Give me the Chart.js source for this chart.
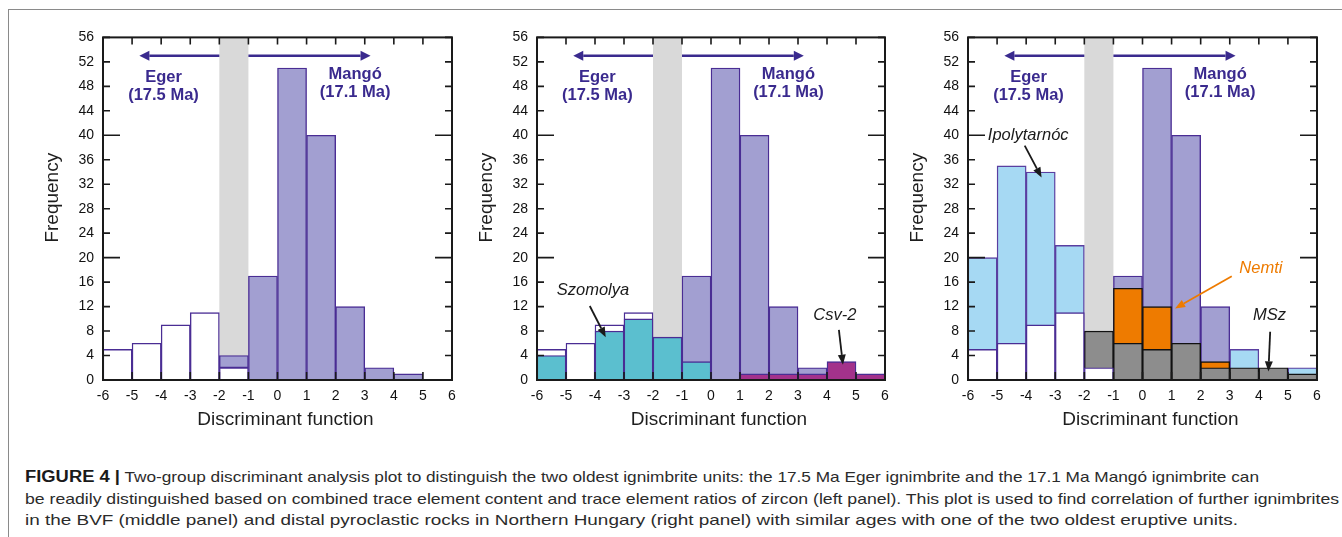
<!DOCTYPE html>
<html>
<head>
<meta charset="utf-8">
<script src="https://cdn.jsdelivr.net/npm/chart.js@4/dist/chart.umd.min.js"></script>
<style>
html,body{margin:0;padding:0;background:#fff;}
#page{position:relative;width:1342px;height:537px;overflow:hidden;background:#fff;}
#frame{position:absolute;left:8px;top:9px;width:1400px;height:600px;border-top:1.5px solid #8a8a8a;border-left:1.5px solid #8a8a8a;}
canvas{position:absolute;}
.cap{position:absolute;left:25px;white-space:nowrap;font-family:"Liberation Sans",Arial,sans-serif;font-size:15px;line-height:20px;color:#2b2b2b;transform-origin:0 50%;}
.cap b{font-size:16px;color:#1a1a1a;}
</style>
</head>
<body>
<div id="page">
  <div id="frame"></div>
  <canvas id="c1" width="444" height="415" style="left:28px;top:20px"></canvas>
  <canvas id="c2" width="443" height="415" style="left:462px;top:20px"></canvas>
  <canvas id="c3" width="444" height="415" style="left:893px;top:20px"></canvas>
  <div class="cap" id="l1" style="top:467px"><b>FIGURE 4 |</b> Two-group discriminant analysis plot to distinguish the two oldest ignimbrite units: the 17.5 Ma Eger ignimbrite and the 17.1 Ma Mangó ignimbrite can</div>
  <div class="cap" id="l2" style="top:489px">be readily distinguished based on combined trace element content and trace element ratios of zircon (left panel). This plot is used to find correlation of further ignimbrites</div>
  <div class="cap" id="l3" style="top:510px">in the BVF (middle panel) and distal pyroclastic rocks in Northern Hungary (right panel) with similar ages with one of the two oldest eruptive units.</div>
</div>
<script>
// ---------------- DATA ----------------
const binStarts   = [-6, -5, -4, -3, -2, -1, 0, 1, 2, 3, 4, 5];   // histogram bins of width 1
const overlapZone = [-2, -1];                                     // grey overlap band
const eger        = [5, 6, 9, 11, 2, 0, 0, 0, 0, 0, 0, 0];        // Eger (17.5 Ma)
const mango       = [0, 0, 0, 0, 2, 17, 51, 40, 12, 2, 1, 0];     // Mangó (17.1 Ma), stacked on Eger
const szomolya    = [4, 0, 8, 10, 7, 3, 0, 0, 0, 0, 0, 0];
const csv2        = [0, 0, 0, 0, 0, 0, 0, 1, 1, 1, 3, 1];
const ipolytarnoc = [20, 35, 34, 22, 0, 0, 0, 0, 0, 5, 0, 2];
const nemti       = [0, 0, 0, 0, 0, 15, 12, 0, 3, 0, 0, 0];
const msz         = [0, 0, 0, 0, 8, 6, 5, 6, 2, 2, 2, 1];
const xTickRange  = {min: -6, max: 6, step: 1};
const yTickRange  = {min: 0, max: 56, step: 4};

// ---------------- STYLE ----------------
const FONT = '"Liberation Sans", Arial, Helvetica, sans-serif';
const PURPLE = '#4a2d94';
const LABEL_BLUE = '#3a2a8e';
const COL = {
  eger: '#ffffff', mango: '#a29fd1', szomolya: '#5bbfcf', csv2: '#a3328b',
  ipoly: '#a6d9f3', nemti: '#ee7b00', msz: '#8d8d8d', band: '#d9d9d9'
};

function bars(values, base) {
  const out = [];
  binStarts.forEach((s, i) => {
    if (values[i] > 0) {
      const b = base ? base[i] : 0;
      out.push({x: s + 0.5, y: [b, b + values[i]]});
    }
  });
  return out;
}
function ds(label, values, base, fill, border, order) {
  return {
    type: 'bar', label, data: bars(values, base), order,
    backgroundColor: fill, borderColor: border, borderWidth: 1.4,
    borderSkipped: false, grouped: false, barPercentage: 1, categoryPercentage: 1
  };
}

function arrow(ctx, x0, y0, x1, y1, color, lw, hl, hw) {
  const ang = Math.atan2(y1 - y0, x1 - x0);
  const bx = x1 - hl * Math.cos(ang), by = y1 - hl * Math.sin(ang);
  ctx.save();
  ctx.strokeStyle = color; ctx.fillStyle = color; ctx.lineWidth = lw; ctx.lineCap = 'butt';
  ctx.beginPath(); ctx.moveTo(x0, y0); ctx.lineTo(bx, by); ctx.stroke();
  ctx.beginPath();
  ctx.moveTo(x1, y1);
  ctx.lineTo(bx + hw / 2 * Math.sin(ang), by - hw / 2 * Math.cos(ang));
  ctx.lineTo(bx - hw / 2 * Math.sin(ang), by + hw / 2 * Math.cos(ang));
  ctx.closePath(); ctx.fill();
  ctx.restore();
}

const deco = {
  id: 'deco',
  beforeDatasetsDraw(chart, args, opts) {
    const {ctx, chartArea: a, scales: {x}} = chart;
    const x0 = x.getPixelForValue(overlapZone[0]), x1 = x.getPixelForValue(overlapZone[1]);
    ctx.save();
    ctx.fillStyle = COL.band;
    ctx.fillRect(x0, a.top, x1 - x0, a.bottom - a.top);
    ctx.restore();
  },
  afterDatasetsDraw(chart, args, opts) {
    const {ctx, chartArea: a, scales: {x, y}} = chart;
    ctx.save();
    // tick marks (inside)
    ctx.strokeStyle = '#1a1a1a'; ctx.lineWidth = 1.6;
    ctx.beginPath();
    y.ticks.forEach(t => {
      const py = y.getPixelForValue(t.value);
      const L = (t.value % 20 === 0) ? 17 : 7;
      ctx.moveTo(a.left, py); ctx.lineTo(a.left + L, py);
      ctx.moveTo(a.right, py); ctx.lineTo(a.right - L, py);
    });
    x.ticks.forEach(t => {
      const px = x.getPixelForValue(t.value);
      ctx.moveTo(px, a.top); ctx.lineTo(px, a.top + 7);
      ctx.moveTo(px, a.bottom); ctx.lineTo(px, a.bottom - 8);
    });
    ctx.stroke();
    // frame
    ctx.lineWidth = 2;
    ctx.strokeRect(a.left, a.top, a.right - a.left, a.bottom - a.top);

    // Eger / Mangó arrows and labels
    const ay = y.getPixelForValue(53);
    arrow(ctx, x.getPixelForValue(overlapZone[0]), ay, x.getPixelForValue(-4.75), ay, LABEL_BLUE, 2.4, 10, 10);
    arrow(ctx, x.getPixelForValue(overlapZone[1]), ay, x.getPixelForValue(3.2), ay, LABEL_BLUE, 2.4, 10, 10);
    ctx.fillStyle = LABEL_BLUE;
    ctx.font = 'bold 16.5px ' + FONT;
    ctx.textAlign = 'center'; ctx.textBaseline = 'middle';
    const ex = x.getPixelForValue(-3.92), ey = y.getPixelForValue(49.5);
    ctx.fillText('Eger', ex, ey); ctx.fillText('(17.5 Ma)', ex, ey + 18);
    const mx = x.getPixelForValue(2.67), my = y.getPixelForValue(50.0);
    ctx.fillText('Mangó', mx, my); ctx.fillText('(17.1 Ma)', mx, my + 18);

    // panel-specific notes
    (opts.notes || []).forEach(n => {
      ctx.fillStyle = n.color;
      ctx.font = 'italic 16.5px ' + FONT;
      ctx.fillText(n.text, x.getPixelForValue(n.x), y.getPixelForValue(n.y));
      arrow(ctx, x.getPixelForValue(n.from[0]), y.getPixelForValue(n.from[1]),
                 x.getPixelForValue(n.to[0]), y.getPixelForValue(n.to[1]), n.color, 1.8, 10, 8);
    });

    // axis titles
    ctx.fillStyle = '#1e1e1e';
    ctx.font = '19px ' + FONT;
    ctx.save();
    ctx.translate(a.left - 50, (a.top + a.bottom) / 2 - 11);
    ctx.rotate(-Math.PI / 2);
    ctx.fillText('Frequency', 0, 0);
    ctx.restore();
    ctx.fillText('Discriminant function', (a.left + a.right) / 2 + 8, a.bottom + 39.5);
    ctx.restore();
  }
};

function makePanel(id, datasets, notes) {
  return new Chart(document.getElementById(id), {
    type: 'bar',
    data: {datasets},
    plugins: [deco],
    options: {
      responsive: false, animation: false, devicePixelRatio: 1,
      layout: {padding: {left: 0, right: 20, top: 13, bottom: 0}},
      plugins: {legend: {display: false}, tooltip: {enabled: false}, deco: {notes}},
      scales: {
        x: {
          type: 'linear', min: xTickRange.min, max: xTickRange.max, offset: false,
          grid: {display: false, drawTicks: false, offset: false}, border: {display: false},
          ticks: {stepSize: xTickRange.step, padding: 8, color: '#111111', autoSkip: false, maxRotation: 0,
                  font: {family: FONT, size: 14}},
          afterFit: s => { s.height = 55; }
        },
        y: {
          type: 'linear', min: yTickRange.min, max: yTickRange.max,
          grid: {display: false, drawTicks: false}, border: {display: false},
          ticks: {stepSize: yTickRange.step, padding: 9, color: '#111111', autoSkip: false,
                  font: {family: FONT, size: 14}},
          afterFit: s => { s.width = 75; }
        }
      }
    }
  });
}

// Left panel
makePanel('c1', [
  ds('Eger', eger, null, COL.eger, PURPLE, 1),
  ds('Mangó', mango, eger, COL.mango, PURPLE, 2)
], []);

// Middle panel
makePanel('c2', [
  ds('Szomolya', szomolya, null, COL.szomolya, PURPLE, 0),
  ds('Csv-2', csv2, null, COL.csv2, PURPLE, 0),
  ds('Eger', eger, null, COL.eger, PURPLE, 1),
  ds('Mangó', mango, eger, COL.mango, PURPLE, 2)
], [
  {text: 'Szomolya', x: -4.07, y: 14.66, color: '#1a1a1a', from: [-4.18, 12.1], to: [-3.63, 7.0]},
  {text: 'Csv-2', x: 4.27, y: 10.5, color: '#1a1a1a', from: [4.41, 8.2], to: [4.55, 2.5]}
]);

// Right panel
makePanel('c3', [
  ds('Eger', eger, null, COL.eger, PURPLE, 0),
  ds('MSz', msz, null, COL.msz, '#111111', 1),
  ds('Nemti', nemti, null, COL.nemti, '#111111', 2),
  ds('Ipolytarnóc', ipolytarnoc, null, COL.ipoly, '#5a3ea0', 3),
  ds('Mangó', mango, eger, COL.mango, PURPLE, 4)
], [
  {text: 'Ipolytarnóc', x: -3.93, y: 40.05, color: '#1a1a1a', from: [-4.05, 38.3], to: [-3.47, 33.1]},
  {text: 'Nemti', x: 4.07, y: 18.3, color: '#ee7b00', from: [3.07, 16.96], to: [1.12, 11.7]},
  {text: 'MSz', x: 4.37, y: 10.5, color: '#1a1a1a', from: [4.39, 7.9], to: [4.33, 1.4]}
]);

// fit caption lines to the reference line lengths
const capTargets = {l1: 1234, l2: 1314, l3: 1213};
Object.keys(capTargets).forEach(id => {
  const el = document.getElementById(id);
  const w = el.getBoundingClientRect().width;
  if (w > 0) el.style.transform = 'scaleX(' + (capTargets[id] / w).toFixed(4) + ')';
});
</script>
</body>
</html>
